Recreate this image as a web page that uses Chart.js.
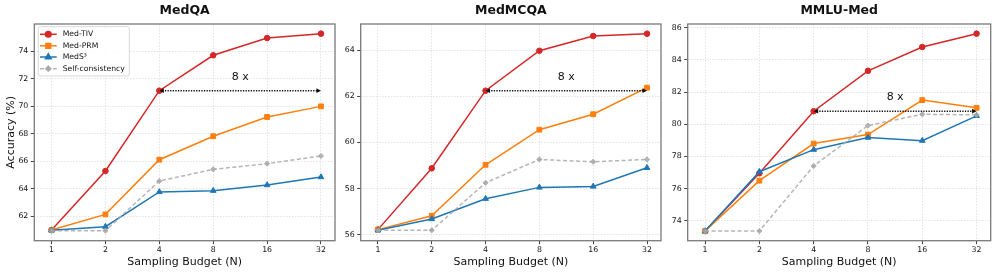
<!DOCTYPE html>
<html>
<head>
<meta charset="utf-8">
<script src="https://cdn.jsdelivr.net/npm/chart.js@4.4.0/dist/chart.umd.min.js"></script>
<style>
  body { margin: 0; background: #fff; }
  #wrap { position: relative; width: 996px; height: 273px; overflow: hidden; }
  #wrap canvas { position: absolute; top: 0; }
</style>
</head>
<body>
<div id="wrap">
  <canvas id="c1" width="340" height="273" style="left:0px"></canvas>
  <canvas id="c2" width="326" height="273" style="left:340px"></canvas>
  <canvas id="c3" width="330" height="273" style="left:666px"></canvas>
</div>
<script>
// values
const budgets = ['1', '2', '4', '8', '16', '32'];
const seriesNames = ['Med-TIV', 'Med-PRM', 'MedS³', 'Self-consistency'];
const gapLabel = '8 x';

const medqaTIV = [61.00, 65.29, 71.12, 73.69, 74.94, 75.26];
const medqaPRM = [61.00, 62.14, 66.11, 67.81, 69.21, 69.98];
const medqaS3  = [60.98, 61.25, 63.77, 63.86, 64.27, 64.85];
const medqaSC  = [60.96, 60.96, 64.56, 65.41, 65.82, 66.38];

const medmcqaTIV = [56.22, 58.88, 62.24, 63.97, 64.61, 64.71];
const medmcqaPRM = [56.22, 56.82, 59.03, 60.55, 61.22, 62.37];
const medmcqaS3  = [56.19, 56.68, 57.56, 58.05, 58.09, 58.90];
const medmcqaSC  = [56.19, 56.19, 58.25, 59.26, 59.16, 59.26];

const mmluTIV = [73.36, 76.95, 80.81, 83.32, 84.80, 85.63];
const mmluPRM = [73.36, 76.49, 78.80, 79.36, 81.50, 81.02];
const mmluS3  = [73.36, 77.05, 78.42, 79.17, 78.98, 80.52];
const mmluSC  = [73.36, 73.36, 77.41, 79.92, 80.62, 80.58];

const medqaTicks   = [62, 64, 66, 68, 70, 72, 74];
const medmcqaTicks = [56, 58, 60, 62, 64];
const mmluTicks    = [74, 76, 78, 80, 82, 84, 86];

Chart.defaults.font.family = "'DejaVu Sans', sans-serif";
Chart.defaults.color = '#111';

const colors = ['#d62728', '#ff7f0e', '#1f77b4', 'rgba(168,168,168,0.85)'];
const styles = ['circle', 'rect', 'triangle', 'rectRot'];
const radii = [2.8, 3.4, 3.3, 2.6];

// frame around the axes (matplotlib spines)
const frame = {
  id: 'frame',
  afterDatasetsDraw(chart) {
    const {ctx, chartArea: a} = chart;
    ctx.save();
    ctx.strokeStyle = '#7a7a7a';
    ctx.lineWidth = 1.3;
    ctx.strokeRect(a.left, a.top, a.right - a.left, a.bottom - a.top);
    ctx.restore();
  }
};

// dotted double arrow from N=4 to N=32 at the Med-TIV N=4 level, with "8 x"
const gapArrow = {
  id: 'gapArrow',
  afterDatasetsDraw(chart) {
    const {ctx, scales: {x, y}} = chart;
    const lvl = chart.data.datasets[0].data[2].y;
    const x1 = x.getPixelForValue(2), x2 = x.getPixelForValue(5);
    const py = y.getPixelForValue(lvl);
    ctx.save();
    ctx.strokeStyle = '#111';
    ctx.fillStyle = '#111';
    ctx.lineWidth = 1.4;
    ctx.setLineDash([1.3, 1.3]);
    ctx.beginPath();
    ctx.moveTo(x1 + 3, py);
    ctx.lineTo(x2 - 3, py);
    ctx.stroke();
    ctx.setLineDash([]);
    [[x1, 1], [x2, -1]].forEach(([tx, d]) => {
      ctx.beginPath();
      ctx.moveTo(tx, py);
      ctx.lineTo(tx + d * 4.5, py - 2.4);
      ctx.lineTo(tx + d * 4.5, py + 2.4);
      ctx.closePath();
      ctx.fill();
    });
    ctx.font = "11px 'DejaVu Sans'";
    ctx.textAlign = 'center';
    ctx.textBaseline = 'middle';
    ctx.fillText(gapLabel, x.getPixelForValue(3.5), py - 14);
    ctx.restore();
  }
};

// legend box in the upper-left corner (first panel only)
const legendBox = {
  id: 'legendBox',
  afterDraw(chart) {
    const {ctx, chartArea: a} = chart;
    const rows = [10.3, 21.8, 33.0, 44.7];
    ctx.save();
    ctx.fillStyle = 'rgba(255,255,255,0.85)';
    ctx.strokeStyle = '#cfcfcf';
    ctx.lineWidth = 0.8;
    ctx.beginPath();
    ctx.roundRect(a.left + 4, a.top + 2.7, 91, 49.3, 2);
    ctx.fill();
    ctx.stroke();
    chart.data.datasets.forEach((ds, i) => {
      const ly = a.top + rows[i];
      ctx.strokeStyle = ds.borderColor;
      ctx.fillStyle = ds.backgroundColor;
      ctx.lineWidth = ds.borderWidth;
      ctx.setLineDash(ds.borderDash || []);
      ctx.beginPath();
      ctx.moveTo(a.left + 5.7, ly);
      ctx.lineTo(a.left + 22.4, ly);
      ctx.stroke();
      ctx.setLineDash([]);
      Chart.helpers.drawPoint(ctx, {pointStyle: ds.pointStyle, radius: ds.pointRadius, borderWidth: 1, rotation: 0}, a.left + 14, ly);
      ctx.fillStyle = '#111';
      ctx.font = "7.7px 'DejaVu Sans'";
      ctx.textAlign = 'left';
      ctx.textBaseline = 'middle';
      ctx.fillText(ds.label, a.left + 28.4, ly);
    });
    ctx.restore();
  }
};

function makePanel(id, title, series, yTicks, yMin, yMax, yWidth, padRight, showYTitle, withLegend) {
  const datasets = series.map((vals, i) => ({
    label: seriesNames[i],
    data: vals.map((v, k) => ({x: k, y: v})),
    borderColor: colors[i],
    backgroundColor: colors[i],
    borderWidth: 1.5,
    borderDash: i === 3 ? [4, 2.5] : [],
    pointStyle: styles[i],
    pointRadius: radii[i],
    pointBorderWidth: 1,
    order: 4 - i
  }));

  const plugins = [frame, gapArrow];
  if (withLegend) plugins.push(legendBox);

  new Chart(document.getElementById(id), {
    type: 'line',
    data: {datasets},
    plugins,
    options: {
      responsive: false,
      animation: false,
      events: [],
      layout: {padding: {left: 0, right: padRight, top: 0, bottom: 0}},
      scales: {
        x: {
          type: 'linear',
          min: -0.32,
          max: 5.26,
          afterBuildTicks: s => { s.ticks = budgets.map((b, k) => ({value: k})); },
          afterFit: s => { s.height = 32.3; },
          ticks: {
            callback: v => budgets[v],
            font: {size: 7.8},
            color: '#111',
            padding: 1.5,
            maxRotation: 0
          },
          grid: {color: '#dcdcdc', lineWidth: 0.8, tickLength: 3.5, tickColor: '#444', tickWidth: 1},
          border: {display: false, dash: [1.5, 1.5]},
          title: {display: true, text: 'Sampling Budget (N)', font: {size: 11}, color: '#111', padding: {top: 0, bottom: 4.7}}
        },
        y: {
          min: yMin,
          max: yMax,
          afterBuildTicks: s => { s.ticks = yTicks.map(v => ({value: v})); },
          afterFit: s => { s.width = yWidth; },
          ticks: {font: {size: 7.8}, color: '#111', padding: 2.5},
          grid: {color: '#dcdcdc', lineWidth: 0.8, tickLength: 3.5, tickColor: '#444', tickWidth: 1},
          border: {display: false, dash: [1.5, 1.5]},
          title: {display: showYTitle, text: 'Accuracy (%)', font: {size: 11}, color: '#111', padding: {top: 4.7, bottom: 0}}
        }
      },
      plugins: {
        legend: {display: false},
        tooltip: {enabled: false},
        title: {
          display: true,
          text: title,
          fullSize: false,
          font: {size: 12.5, weight: 'bold'},
          color: '#111',
          padding: {top: 3.5, bottom: 5.5}
        }
      }
    }
  });
}

makePanel('c1', 'MedQA', [medqaTIV, medqaPRM, medqaS3, medqaSC], medqaTicks, 60.23, 75.96, 34.3, 2.7, true, true);
makePanel('c2', 'MedMCQA', [medmcqaTIV, medmcqaPRM, medmcqaS3, medmcqaSC], medmcqaTicks, 55.74, 65.13, 20.7, 2.7, false, false);
makePanel('c3', 'MMLU-Med', [mmluTIV, mmluPRM, mmluS3, mmluSC], mmluTicks, 72.76, 86.23, 21.7, 5.3, false, false);
</script>
</body>
</html>
